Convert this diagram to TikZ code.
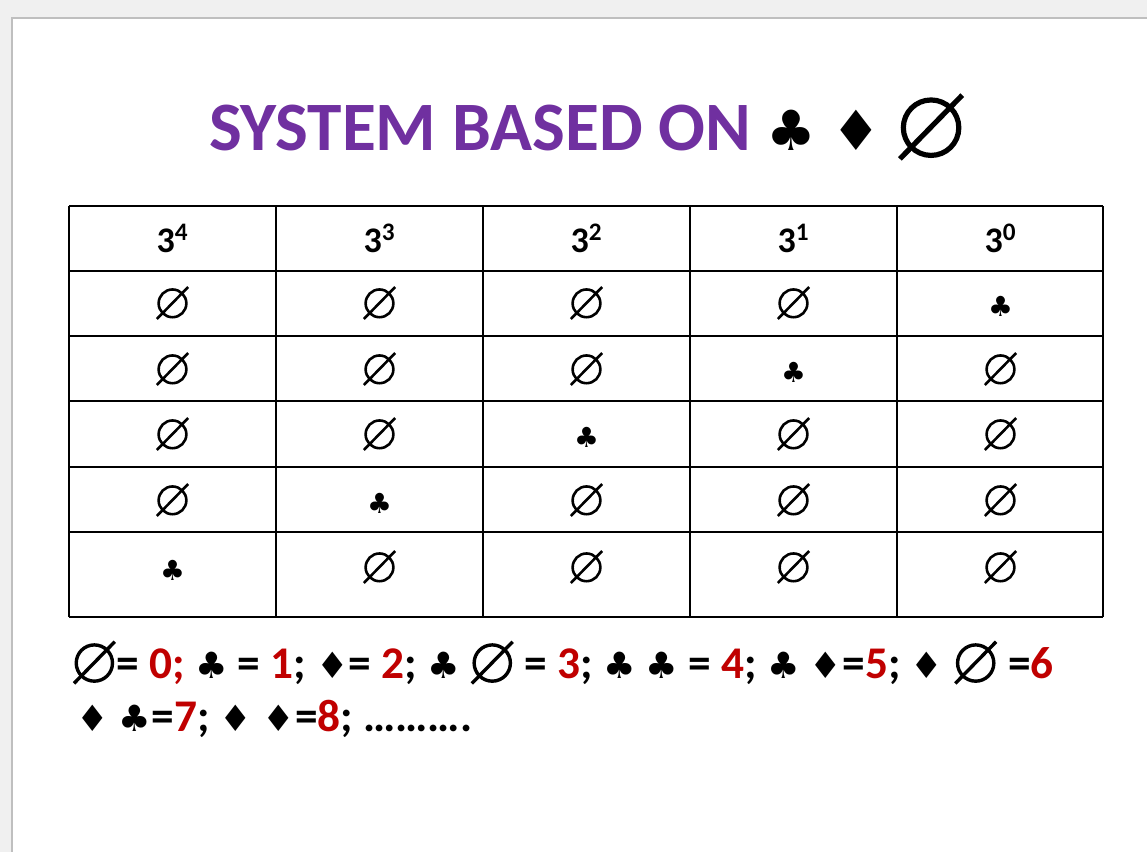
\documentclass[tikz,border=0pt]{standalone}
\usepackage{fontspec}
\setmainfont{Carlito}
\newfontfamily\symf{DejaVu Sans}
\definecolor{ttl}{HTML}{7030A0}
\definecolor{rd}{HTML}{C00000}
\newcommand{\CL}{{\symf\fontsize{0.8em}{1em}\selectfont ♣}}
\newcommand{\DI}{{\symf\fontsize{0.8em}{1em}\selectfont ♦}}
\newcommand{\ES}{\tikz[baseline=0pt,x=1em,y=1em]{\draw[line width=.075em,black] (0,.33) circle (.4); \draw[line width=.075em,black] (-.45,-.12) -- (.45,.8);}}
\begin{document}
\begin{tikzpicture}[x=0.75pt,y=-0.75pt,
  cell/.style={font=\fontsize{26}{28}\selectfont\bfseries},
  big/.style={font=\fontsize{34}{38}\selectfont\bfseries}]
\useasboundingbox (0,0) rectangle (1147,852);
\fill[black!6] (0,0) rectangle (1147,852);
\fill[white] (12,18) rectangle (1147,852);
\draw[black!25,line width=1.5pt] (12,852) -- (12,18) -- (1147,18);
\node[font=\fontsize{52}{58}\selectfont\bfseries,text=ttl] (title) at (587,127) {SYSTEM BASED ON \textcolor{black}{\CL\ \DI\ \ES}};
\foreach \x in {69,276,483,690,897,1103} \draw[line width=0.8pt] (\x,206) -- (\x,617);
\foreach \y in {206,271,336,401,467,532,617} \draw[line width=0.8pt] (69,\y) -- (1103,\y);
\foreach \t [count=\i from 0] in {4,3,2,1,0}
  \node[cell,font=\fontsize{27}{30}\selectfont\bfseries] (h\i) at (172.5+207*\i,238) {3\textsuperscript{\t}};
\foreach \r/\y in {1/303,2/369,3/434,4/500,5/567}
  \foreach \c in {0,...,4}{
    \pgfmathtruncatemacro\k{4-\c}
    \ifnum\k=\numexpr\r-1\relax
      \node[cell,font=\fontsize{26}{28}\selectfont] (c\r\c) at (172.5+207*\c,\y+3) {\CL};
    \else
      \node[cell] (c\r\c) at (172.5+207*\c,\y) {\ES};
    \fi}
\node[big,anchor=base west,inner sep=0] (l1) at (72,678) {\ES= \textcolor{rd}{0;} \CL\ = \textcolor{rd}{1}; \DI= \textcolor{rd}{2}; \CL\ \ES\ = \textcolor{rd}{3}; \CL\ \CL\ = \textcolor{rd}{4}; \CL\ \DI=\textcolor{rd}{5}; \DI\ \ES\ =\textcolor{rd}{6}};
\node[big,anchor=base west,inner sep=0] (l2) at (76,731) {\DI\ \CL=\textcolor{rd}{7}; \DI\ \DI=\textcolor{rd}{8}; ……….};
\end{tikzpicture}
\end{document}
